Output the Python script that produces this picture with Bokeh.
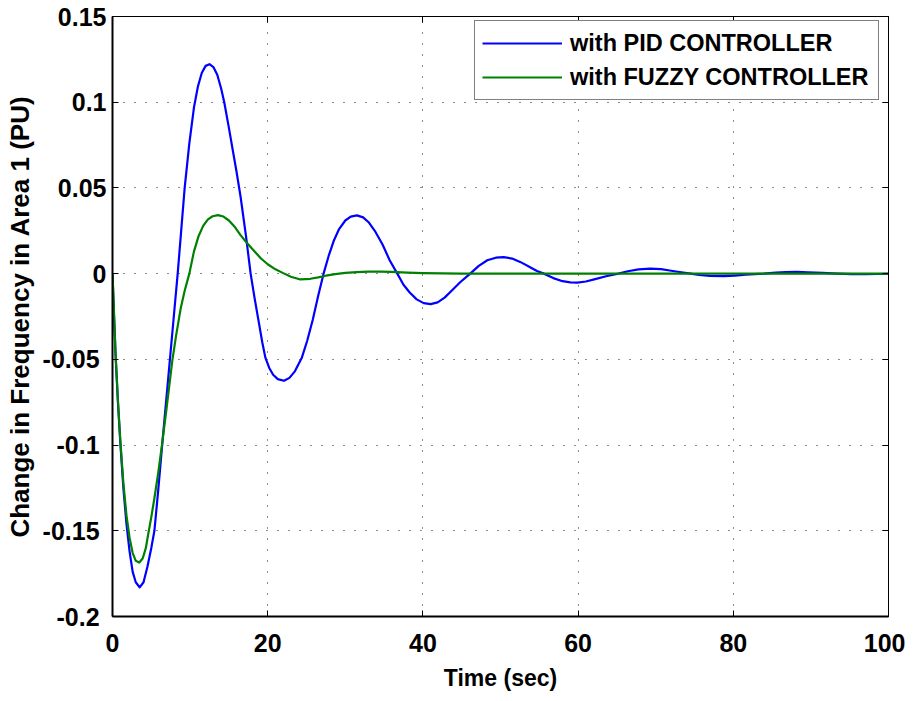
from bokeh.plotting import figure
from bokeh.models import Range1d, FixedTicker, LinearAxis, Legend, LegendItem
from bokeh.embed import file_html
from bokeh.resources import INLINE

# ---- data ----
t_pid = [0, 0.2, 0.4, 0.7, 1.0, 1.4, 1.8, 2.2, 2.6, 3.0, 3.5, 4.0, 4.5, 5.0, 5.4,
         5.9, 6.4, 6.9, 7.4, 7.9, 8.4, 8.85, 9.3, 9.9, 10.5, 11.0, 11.5, 12.0, 12.5,
         13.0, 13.5, 14.0, 14.4, 15.0, 15.5, 16.0, 16.5, 17.2, 17.8, 18.3, 18.8,
         19.3, 19.7, 20.2, 20.7, 21.3, 22.1, 22.8, 23.5, 24.4, 25.1, 25.8, 26.5,
         27.2, 27.9, 28.5, 29.2, 30.0, 30.7, 31.5, 32.3, 33.0, 33.8, 34.8, 35.7,
         36.7, 37.5, 38.3, 39.2, 40.1, 41.0, 41.9, 42.8, 43.8, 44.8, 46.1, 47.2,
         48.3, 49.4, 50.4, 51.5, 52.6, 53.7, 54.7, 55.6, 56.8, 58.0, 59.0, 59.9,
         61.0, 62.2, 63.6, 65.2, 66.4, 67.8, 69.3, 70.7, 72.0, 73.3, 74.5, 75.6,
         77.0, 78.8, 80.2, 81.6, 83.9, 85.5, 86.8, 88.2, 89.6, 91.5, 93.4, 95.2,
         97.0, 98.6, 100]
pid = [0, -0.025, -0.048, -0.075, -0.098, -0.125, -0.146, -0.162, -0.174, -0.180,
       -0.183, -0.180, -0.171, -0.160, -0.150, -0.126, -0.100, -0.075, -0.050,
       -0.025, 0.0, 0.025, 0.050, 0.076, 0.097, 0.109, 0.117, 0.1212, 0.1222,
       0.1205, 0.116, 0.108, 0.100, 0.085, 0.072, 0.059, 0.045, 0.022, 0.0,
       -0.014, -0.027, -0.040, -0.049, -0.055, -0.059, -0.0615, -0.0625, -0.0608,
       -0.057, -0.049, -0.039, -0.027, -0.013, 0.0, 0.011, 0.019, 0.026, 0.031,
       0.0333, 0.034, 0.0328, 0.030, 0.025, 0.017, 0.008, 0.0, -0.0065, -0.011,
       -0.015, -0.0172, -0.0178, -0.0168, -0.014, -0.0095, -0.005, 0.0, 0.0045,
       0.0078, 0.0093, 0.0096, 0.0088, 0.0067, 0.0040, 0.0015, 0.0, -0.0026,
       -0.0044, -0.0051, -0.0052, -0.0046, -0.0032, -0.0015, 0.0, 0.0014, 0.0025,
       0.0029, 0.0026, 0.0017, 0.0008, 0.0, -0.0008, -0.0013, -0.0015, -0.0012,
       -0.0006, 0.0, 0.0006, 0.0009, 0.001, 0.0008, 0.0004, 0.0, -0.0003,
       -0.0003, -0.0002, -0.0001]

t_fuzzy = [0, 0.2, 0.4, 0.7, 1.0, 1.4, 1.8, 2.2, 2.6, 3.0, 3.45, 3.9, 4.3, 4.6,
           5.0, 5.4, 5.9, 6.4, 6.9, 7.3, 7.7, 8.2, 8.8, 9.3, 9.9, 10.5, 11.1, 11.7,
           12.3, 12.9, 13.6, 14.3, 15.0, 15.8, 16.5, 17.3, 18.2, 19.1, 20.0, 21.0,
           22.0, 23.0, 24.2, 25.5, 26.5, 27.5, 28.7, 30.0, 31.5, 33.0, 34.5, 36.0,
           38.0, 40.0, 42.5, 45.0, 100]
fuzzy = [0, -0.024, -0.047, -0.074, -0.097, -0.122, -0.141, -0.154, -0.163,
         -0.1675, -0.1685, -0.166, -0.160, -0.152, -0.142, -0.131, -0.116, -0.099,
         -0.081, -0.066, -0.051, -0.036, -0.020, -0.010, 0.0, 0.013, 0.022, 0.028,
         0.0317, 0.0335, 0.0341, 0.0333, 0.031, 0.027, 0.0225, 0.018, 0.0135,
         0.009, 0.0055, 0.0025, 0.0003, -0.0018, -0.0034, -0.0030, -0.0022,
         -0.0012, -0.0003, 0.0004, 0.0009, 0.0012, 0.0012, 0.0010, 0.0006, 0.0003,
         0.0001, 0.0, 0.0]

x_ticks = [0, 20, 40, 60, 80, 100]
y_ticks = [-0.2, -0.15, -0.1, -0.05, 0, 0.05, 0.1, 0.15]
y_tick_labels = ["-0.2", "-0.15", "-0.1", "-0.05", "0", "0.05", "0.1", "0.15"]
series_labels = ["with PID CONTROLLER", "with FUZZY CONTROLLER"]

FONT = "Liberation Sans"
NBSP = "\u00a0"  # negative labels sit a little further from the axis, as in the reference

p = figure(width=905, height=693, output_backend="svg", toolbar_location=None,
           x_range=Range1d(0, 100), y_range=Range1d(-0.2, 0.15),
           min_border_left=112, min_border_right=17, min_border_top=16,
           min_border_bottom=70)
p.background_fill_color = "white"
p.border_fill_color = "white"
p.outline_line_color = "black"
p.outline_line_width = 1

# axes
p.xaxis.ticker = FixedTicker(ticks=x_ticks)
p.yaxis.ticker = FixedTicker(ticks=y_ticks)
p.yaxis.major_label_overrides = {
    v: (s + NBSP if v < 0 else s) for v, s in zip(y_ticks, y_tick_labels)}
for ax in (p.xaxis[0], p.yaxis[0]):
    ax.axis_line_color = "black"
    ax.axis_line_width = 2
    ax.major_tick_in = 6
    ax.major_tick_out = 0
    ax.major_tick_line_color = "black"
    ax.minor_tick_line_color = None
    ax.major_label_text_font = FONT
    ax.major_label_text_font_style = "bold"
    ax.major_label_text_font_size = "25px"
    ax.major_label_text_color = "black"
    ax.axis_label_text_font = FONT
    ax.axis_label_text_font_style = "bold"
    ax.axis_label_text_color = "black"
p.xaxis.major_label_standoff = 17
p.yaxis.major_label_standoff = 6
p.xaxis.axis_label = "Time (sec)"
p.xaxis.axis_label_text_font_size = "23px"
p.xaxis.axis_label_standoff = 10
p.yaxis.axis_label = "Change in Frequency in Area 1 (PU)"
p.yaxis.axis_label_text_font_size = "26px"
p.yaxis.axis_label_standoff = 5

top_ax = LinearAxis(ticker=FixedTicker(ticks=x_ticks), major_tick_in=6, major_tick_out=0,
                    minor_tick_line_color=None, major_label_text_color=None,
                    major_label_text_font_size="1px", major_label_standoff=0,
                    axis_line_color="black", axis_line_width=1)
right_ax = LinearAxis(ticker=FixedTicker(ticks=y_ticks), major_tick_in=6, major_tick_out=0,
                      minor_tick_line_color=None, major_label_text_color=None,
                      major_label_text_font_size="1px", major_label_standoff=0,
                      axis_line_color="black", axis_line_width=1)
p.add_layout(top_ax, "above")
p.add_layout(right_ax, "right")

# grid
for g in (p.xgrid[0], p.ygrid[0]):
    g.grid_line_color = "black"
    g.grid_line_dash = "1 10"
    g.grid_line_width = 1
    g.grid_line_alpha = 0.9
p.xgrid.ticker = FixedTicker(ticks=x_ticks)
p.ygrid.ticker = FixedTicker(ticks=y_ticks)

r1 = p.line(t_pid, pid, line_color="#0000ff", line_width=2.2, line_join="round")
r2 = p.line(t_fuzzy, fuzzy, line_color="#008000", line_width=2.2, line_join="round")

legend = Legend(items=[LegendItem(label=series_labels[0], renderers=[r1]),
                       LegendItem(label=series_labels[1], renderers=[r2])],
                location=(362, 516), margin=0, padding=7, spacing=4,
                glyph_width=80, glyph_height=30, label_height=30, label_width=301,
                label_standoff=8,
                label_text_font=FONT, label_text_font_style="bold",
                label_text_font_size="23.5px", label_text_color="black",
                border_line_color="black", border_line_width=1,
                background_fill_color="white", background_fill_alpha=1)
p.add_layout(legend, "center")

open("out.html", "w").write(file_html(p, INLINE))
